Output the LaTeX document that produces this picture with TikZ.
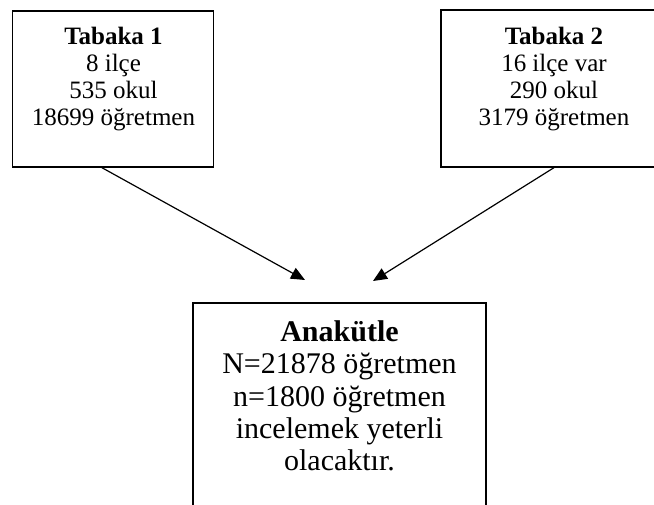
\documentclass[tikz,border=0pt]{standalone}
\usepackage{fontspec}
\setmainfont{Liberation Serif}
\usetikzlibrary{arrows.meta,calc}
\begin{document}
\begin{tikzpicture}[x=1pt,y=-1pt,
  box/.style={draw,line width=1.3pt,inner sep=0pt},
  smalltxt/.style={align=center,inner sep=0pt,anchor=north,font=\fontsize{25}{27}\selectfont},
  bigtxt/.style={align=center,inner sep=0pt,anchor=north,font=\fontsize{30}{32.3}\selectfont},
  conn/.style={line width=1.2pt,-{Triangle[length=14pt,width=12pt]}}]
\clip (0,0) rectangle (654,504);
% boxes
\node[box,minimum width=201pt,minimum height=156pt] (L) at (113,89) {};
\node[box,minimum width=226pt,minimum height=157pt] (R) at (554,88.5) {};
\node[box,minimum width=293pt,minimum height=230pt] (B) at (339.5,418) {};
% texts
\node[smalltxt] (Lt) at (113.5,27) {\textbf{Tabaka 1}\\8 ilçe\\535 okul\\18699 öğretmen};
\node[smalltxt] (Rt) at (554,27) {\textbf{Tabaka 2}\\16 ilçe var\\290 okul\\3179 öğretmen};
\node[bigtxt] (Bt) at (339.5,320.5) {\textbf{Anakütle}\\N=21878 öğretmen\\n=1800 öğretmen\\incelemek yeterli\\olacaktır.};
% arrows
\coordinate (t1) at (305,280);
\coordinate (t2) at (373,281);
\draw[conn] ($(L.south west)!0.445!(L.south east)$) -- (t1);
\draw[conn] (R.south) -- (t2);
\end{tikzpicture}
\end{document}
